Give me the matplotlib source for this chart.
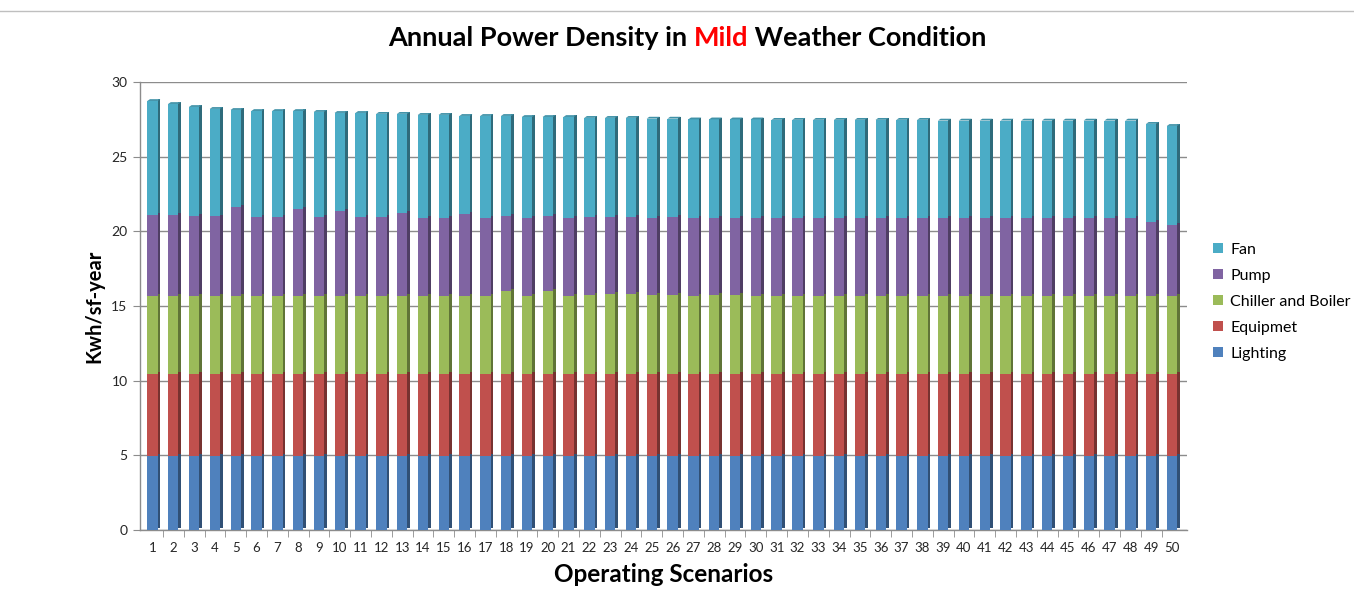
import matplotlib
matplotlib.use("Agg")
import matplotlib.pyplot as plt
from matplotlib.patches import Polygon
from matplotlib.colors import to_rgb
import numpy as np

plt.rcParams["font.family"] = ["Lato", "DejaVu Sans"]

scenarios = list(range(1, 51))

lighting = [4.95] * 50
equipment = [5.50] * 50
chiller_boiler = [5.22] * 17 + [5.55, 5.22, 5.55, 5.22, 5.27, 5.35, 5.35, 5.27,
                                5.30, 5.25, 5.30, 5.27] + [5.22] * 21
pump = [5.43, 5.43, 5.38, 5.33, 5.96, 5.29, 5.29, 5.83, 5.29, 5.70,
        5.29, 5.29, 5.56, 5.23, 5.23, 5.49, 5.23, 5.03, 5.23, 5.03,
        5.23, 5.24, 5.16, 5.16, 5.18, 5.21, 5.20, 5.15, 5.18] + [5.23] * 19 + [4.96, 4.76]
fan = [7.63, 7.43, 7.28, 7.20, 6.50, 7.10, 7.10, 6.56, 7.04, 6.56,
       6.97, 6.91, 6.64, 6.90, 6.90, 6.57, 6.83, 6.70, 6.76, 6.63,
       6.76, 6.64, 6.64, 6.64, 6.65, 6.59, 6.60, 6.60, 6.60, 6.60] + \
      [6.57] * 8 + [6.52] * 10 + [6.57, 6.63]

series = [
    ("Lighting", lighting, "#4F81BD"),
    ("Equipmet", equipment, "#C0504D"),
    ("Chiller and Boiler", chiller_boiler, "#9BBB59"),
    ("Pump", pump, "#8064A2"),
    ("Fan", fan, "#4BACC6"),
]

W, H = 1354, 589
fig = plt.figure(figsize=(W / 100, H / 100), dpi=100)
ax = fig.add_axes([140 / W, 1 - 530 / H, (1187 - 140) / W, (530 - 82) / H])

x = np.array(scenarios, dtype=float)
front_w = 0.50
side_w = 0.13
lift = 0.12


def shade(color, k):
    r, g, b = to_rgb(color)
    return (r * k, g * k, b * k)


bottom = np.zeros(len(x))
handles = []
for name, vals, color in series:
    vals = np.array(vals)
    # side face of the 3-D column
    ax.bar(x + front_w / 2 + side_w / 2, vals, width=side_w, bottom=bottom + lift,
           color=shade(color, 0.62), zorder=2, linewidth=0)
    h = ax.bar(x, vals, width=front_w, bottom=bottom, color=color, zorder=3,
               linewidth=0, label=name)
    handles.append(h)
    bottom = bottom + vals

# top face of each column
top_color = shade("#4BACC6", 0.85)
for xi, t in zip(x, bottom):
    ax.add_patch(Polygon([[xi - front_w / 2, t], [xi + front_w / 2, t],
                          [xi + front_w / 2 + side_w, t + lift],
                          [xi - front_w / 2 + side_w, t + lift]],
                         closed=True, color=top_color, zorder=4, linewidth=0))

ax.set_xlim(0.4, 50.72)
ax.set_ylim(0, 30)
ax.set_yticks(range(0, 31, 5))
ax.yaxis.grid(True, color="#8c8c8c", linewidth=1.0, zorder=0)
ax.set_axisbelow(True)

ax.set_xticks(x)
ax.set_xticklabels([str(s) for s in scenarios], fontsize=9.5, color="#262626")
ax.set_xticks(np.arange(1.5, 50.5, 1.0), minor=True)
ax.tick_params(axis="x", which="major", length=0, pad=9)
ax.tick_params(axis="x", which="minor", length=5, color="#8c8c8c", direction="out")
ax.tick_params(axis="y", length=5, color="#8c8c8c", labelsize=10,
               labelcolor="#262626", pad=4)

for s in ["top", "right"]:
    ax.spines[s].set_visible(False)
for s in ["left", "bottom"]:
    ax.spines[s].set_color("#8c8c8c")
    ax.spines[s].set_linewidth(1.0)

ax.set_ylabel("Kwh/sf-year", fontsize=14.5, fontweight="bold", labelpad=5)
ax.set_xlabel("Operating Scenarios", fontsize=17.5, fontweight="bold", labelpad=6)

leg = fig.legend(handles=handles[::-1], labels=[n for n, _, _ in series][::-1],
                 loc="center left", bbox_to_anchor=(1199 / W, 1 - 302 / H),
                 frameon=False, fontsize=11.5, handlelength=0.6, handleheight=0.6,
                 handletextpad=0.45, labelspacing=0.75)

# title with the weather condition highlighted
fig.canvas.draw()
renderer = fig.canvas.get_renderer()
parts = [("Annual Power Density in ", "black"), ("Mild", "red"),
         (" Weather Condition", "black")]
tkw = dict(fontsize=19.5, fontweight="bold", va="center")
widths = []
for txt, col in parts:
    t = fig.text(0, 0, txt, **tkw)
    widths.append(t.get_window_extent(renderer).width)
    t.remove()
cx = 687
xpos = cx - sum(widths) / 2
for (txt, col), wd in zip(parts, widths):
    fig.text(xpos / W, 1 - 38 / H, txt, color=col, **tkw)
    xpos += wd

fig.add_artist(plt.Line2D([0, 1], [1 - 11 / H, 1 - 11 / H], color="#bfbfbf",
                          linewidth=1.0))

fig.savefig("out.png", dpi=100)
